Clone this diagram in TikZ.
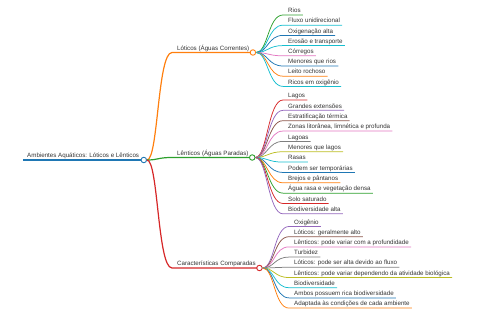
\documentclass[tikz,border=0pt]{standalone}
\usepackage{fontspec}
\setmainfont{Liberation Sans}
\usetikzlibrary{calc}
\definecolor{mmblue}{HTML}{1F77B4}
\definecolor{mmorange}{HTML}{FF7F0E}
\definecolor{mmgreen}{HTML}{2CA02C}
\definecolor{mmred}{HTML}{D62728}
\definecolor{mmpurple}{HTML}{9467BD}
\definecolor{mmbrown}{HTML}{8C564B}
\definecolor{mmpink}{HTML}{E377C2}
\definecolor{mmgray}{HTML}{7F7F7F}
\definecolor{mmolive}{HTML}{BCBD22}
\definecolor{mmcyan}{HTML}{17BECF}
\definecolor{mmtext}{HTML}{333333}

\begin{document}
\begin{tikzpicture}[x=1pt, y=-1pt,
  lbl/.style={font=\fontsize{6.2}{7}\selectfont, text=mmtext, inner sep=0pt, anchor=base west},
  hub/.style={circle, draw=#1, fill=white, line width=0.9pt, minimum size=5.5pt, inner sep=0pt},
  rline/.style={draw=#1, line width=1.6pt},
  bline/.style={draw=#1, line width=1.2pt},
  lline/.style={draw=#1, line width=0.75pt},
]
\useasboundingbox (0,0) rectangle (480,320);

% Root
\coordinate (root-s) at (23,160);
\node[lbl] (root-t) at ($(root-s)+(4,-2.5)$) {Ambientes Aquáticos: Lóticos e Lênticos};
\draw[rline=mmblue] (root-s) -- ($(root-t.east |- root-s)+(4.5,0)$) coordinate (root-e);
\node[hub=mmblue] (root-c) at (root-e) {};

% Three branches
\foreach \b/\y/\col/\txt in {lot/52.5/mmorange/{Lóticos (Águas Correntes)},
                             len/157.5/mmgreen/{Lênticos (Águas Paradas)},
                             car/268/mmred/{Características Comparadas}} {
  \coordinate (\b-s) at (172,\y);
  \node[lbl] (\b-t) at ($(\b-s)+(5,-2.3)$) {\txt};
  \draw[bline=\col] (root-c) .. controls +(14.5,0) and +(-14.5,0) .. (\b-s)
    -- ($(\b-t.east |- \b-s)+(3.5,0)$) coordinate (\b-e);
  \node[hub=\col] (\b-c) at (\b-e) {};
}

% Leaves of Lóticos
\foreach \col/\txt [count=\k from 0] in {mmgreen/Rios, mmcyan/Fluxo unidirecional,
    mmblue/Oxigenação alta, mmcyan/Erosão e transporte, mmpink/Córregos,
    mmblue/Menores que rios, mmorange/Leito rochoso, mmcyan/Ricos em oxigênio} {
  \coordinate (lot\k-s) at (283,{15+10.2*\k});
  \node[lbl] (lot\k-t) at ($(lot\k-s)+(5,-2.3)$) {\txt};
  \draw[lline=\col] (lot-c) .. controls +(15,0) and +(-15,0) .. (lot\k-s)
    -- ($(lot\k-t.east |- lot\k-s)+(2,0)$);
}

% Leaves of Lênticos
\foreach \col/\txt [count=\k from 0] in {mmred/Lagos, mmpurple/Grandes extensões,
    mmbrown/Estratificação térmica, mmpink/{Zonas litorânea, limnética e profunda},
    mmgray/Lagoas, mmolive/Menores que lagos, mmcyan/Rasas,
    mmblue/Podem ser temporárias, mmorange/Brejos e pântanos,
    mmgreen/Água rasa e vegetação densa, mmred/Solo saturado,
    mmpurple/Biodiversidade alta} {
  \coordinate (len\k-s) at (283,{100+10.35*\k});
  \node[lbl] (len\k-t) at ($(len\k-s)+(5,-2.3)$) {\txt};
  \draw[lline=\col] (len-c) .. controls +(15,0) and +(-15,0) .. (len\k-s)
    -- ($(len\k-t.east |- len\k-s)+(2,0)$);
}

% Leaves of Características
\foreach \col/\txt [count=\k from 0] in {mmpurple/Oxigênio,
    mmbrown/Lóticos: geralmente alto,
    mmpink/Lênticos: pode variar com a profundidade, mmgray/Turbidez,
    mmgray/Lóticos: pode ser alta devido ao fluxo,
    mmolive/Lênticos: pode variar dependendo da atividade biológica,
    mmcyan/Biodiversidade, mmblue/Ambos possuem rica biodiversidade,
    mmorange/Adaptada às condições de cada ambiente} {
  \coordinate (car\k-s) at (289,{226.5+10.2*\k});
  \node[lbl] (car\k-t) at ($(car\k-s)+(5,-2.3)$) {\txt};
  \draw[lline=\col] (car-c) .. controls +(15,0) and +(-15,0) .. (car\k-s)
    -- ($(car\k-t.east |- car\k-s)+(2,0)$);
}
\end{tikzpicture}
\end{document}
